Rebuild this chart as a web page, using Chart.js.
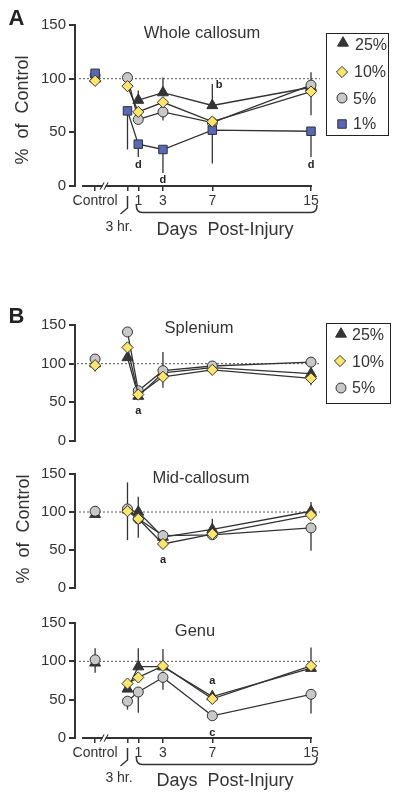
<!DOCTYPE html>
<html>
<head>
<meta charset="utf-8">
<script src="https://cdn.jsdelivr.net/npm/chart.js@4.4.1/dist/chart.umd.min.js"></script>
<style>
  html, body { margin: 0; padding: 0; background: #fff; }
  body { width: 400px; height: 798px; position: relative; overflow: hidden;
         font-family: "Liberation Sans", Arial, Helvetica, sans-serif; color: #333; }
  canvas { position: absolute; left: 0; top: 0; }
  .t { position: absolute; white-space: pre; line-height: 1; transform: translate(-50%, -50%); }
  .l { position: absolute; white-space: pre; line-height: 1; transform: translate(0, -50%); font-size: 16px; }
  .rot { transform: translate(-50%, -50%) rotate(-90deg); }
  .box { position: absolute; border: 1.5px solid #222; }
</style>
</head>
<body>
<canvas id="whole" width="400" height="798"></canvas>
<canvas id="splenium" width="400" height="798"></canvas>
<canvas id="mid" width="400" height="798"></canvas>
<canvas id="genu" width="400" height="798"></canvas>

<div class="box" style="left:326px;top:33px;width:61px;height:101px"></div>
<div class="box" style="left:326px;top:323px;width:63px;height:79px"></div>

<div class="t" style="left:16.5px;top:18px;font-size:22px;font-weight:bold;color:#222">A</div>
<div class="t" style="left:16.5px;top:316px;font-size:22px;font-weight:bold;color:#222">B</div>
<div class="t rot" style="left:22px;top:110px;font-size:18px">%  of  Control</div>
<div class="t rot" style="left:23px;top:529px;font-size:18px">%  of  Control</div>

<div class="t" style="left:202px;top:32px;font-size:16.5px">Whole callosum</div>
<div class="t" style="left:199px;top:327px;font-size:16.5px">Splenium</div>
<div class="t" style="left:201px;top:477px;font-size:16.5px">Mid-callosum</div>
<div class="t" style="left:195px;top:630px;font-size:16.5px">Genu</div>

<div class="l" style="left:355px;top:45px">25%</div>
<div class="l" style="left:354px;top:72px">10%</div>
<div class="l" style="left:353px;top:99px">5%</div>
<div class="l" style="left:353px;top:124px">1%</div>
<div class="l" style="left:352px;top:335px">25%</div>
<div class="l" style="left:352px;top:362px">10%</div>
<div class="l" style="left:352px;top:388px">5%</div>

<div class="t" style="left:119px;top:226px;font-size:14px">3 hr.</div>
<div class="t" style="left:225px;top:229px;font-size:18px">Days  Post-Injury</div>
<div class="t" style="left:119px;top:777px;font-size:14px">3 hr.</div>
<div class="t" style="left:225px;top:780px;font-size:18px">Days  Post-Injury</div>

<script>
// x positions: control, 3 hr, then days post-injury
const timeX = [-2.5, 0.125, 1, 3, 7, 15];
const timeLabels = ['Control', '', '1', '3', '7', '15'];
const yTicks = [0, 50, 100, 150];

// Whole callosum (25%, 10%, 5%, 1%)
const wholeTri = [100, null, 80, 87, 75, 92];
const wholeDia = [98, 93, 69, 78, 60, 88];
const wholeCir = [103, 101, 62, 69, 59, 94];
const wholeSq = [105, 70, 39, 34, 52, 51];
const wholeTriErr = [null, null, [null, 89], [null, 101], [null, 95], [null, 106]];
const wholeDiaErr = [null, null, null, null, null, [66, null]];
const wholeCirErr = [null, null, null, [61, null], null, null];
const wholeSqErr = [null, [34, null], [27, null], [12, null], [21, null], [27, null]];
const wholeMarks = [{x: 1, y: 20, t: 'd'}, {x: 3, y: 6, t: 'd'}, {x: 15, y: 20, t: 'd'}, {x: 7.55, y: 94, t: 'b'}];

// Splenium
const splTri = [100, 108, 58, 88, 95, 87];
const splDia = [98, 121, 60, 83, 92, 81];
const splCir = [106, 141, 65, 91, 97, 102];
const splTriErr = [[90, null], null, null, null, null, [null, 95]];
const splDiaErr = [null, null, null, [69, null], null, [72, null]];
const splCirErr = [null, null, null, [null, 115], null, null];
const splMarks = [{x: 1, y: 39, t: 'a'}];

// Mid-callosum
const midTri = [97, 103, 100, 67, 77, 101];
const midDia = [null, 101, 91, 58, 71, 96];
const midCir = [101, 104, 91, 69, 70, 79];
const midTriErr = [null, null, [66, 120], null, [null, 91], [null, 113]];
const midDiaErr = [null, null, null, null, null, null];
const midCirErr = [null, [63, 139], null, null, null, [49, null]];
const midMarks = [{x: 3, y: 37, t: 'a'}];

// Genu
const genuTri = [98, 64, 93, 93, 54, 91];
const genuDia = [null, 71, 79, 94, 51, 94];
const genuCir = [102, 48, 60, 79, 29, 57];
const genuTriErr = [null, null, [null, 117], [null, 116], null, null];
const genuDiaErr = [null, null, null, null, null, [null, 118]];
const genuCirErr = [[85, 117], [37, null], [33, null], [63, null], null, [32, null]];
const genuMarks = [{x: 7, y: 75, t: 'a'}, {x: 7, y: 7, t: 'c'}];

const FONT = '"Liberation Sans", Arial, Helvetica, sans-serif';
const INK = '#333';
Chart.defaults.font.family = FONT;

const styles = {
  tri: {pointStyle: 'triangle', radius: 6.3, fill: '#353535', order: 3},
  dia: {pointStyle: 'rectRot', radius: 5.6, fill: '#fbe56c', order: 0},
  cir: {pointStyle: 'circle', radius: 5, fill: '#c8c8c8', order: 2},
  sq: {pointStyle: 'rect', radius: 6, fill: '#5867b6', order: 1}
};

function series(key, values, errs) {
  const s = styles[key];
  return {
    data: values.map((v, i) => ({x: timeX[i], y: v})),
    errBars: errs,
    order: s.order,
    borderColor: INK,
    borderWidth: 1.3,
    segment: {borderColor: c => c.p0DataIndex === 0 ? 'rgba(0,0,0,0)' : INK},
    pointStyle: s.pointStyle,
    pointRadius: s.radius,
    pointBackgroundColor: s.fill,
    pointBorderColor: INK,
    pointBorderWidth: 1,
    clip: false
  };
}

function marker(ctx, key, x, y) {
  const s = styles[key];
  ctx.save();
  ctx.fillStyle = s.fill;
  ctx.strokeStyle = INK;
  ctx.lineWidth = 1;
  Chart.helpers.drawPoint(ctx, {pointStyle: s.pointStyle, radius: s.radius, borderWidth: 1, rotation: 0}, x, y);
  ctx.restore();
}

function decor(cfg) {
  return {
    id: 'decor',
    beforeDatasetsDraw(chart) {
      const {ctx, chartArea: a, scales: {x, y}} = chart;
      ctx.save();
      const y100 = y.getPixelForValue(100);
      ctx.strokeStyle = '#555';
      ctx.lineWidth = 1;
      ctx.setLineDash([2, 2]);
      ctx.beginPath();
      ctx.moveTo(a.left + cfg.refStart, y100);
      ctx.lineTo(a.right + 9, y100);
      ctx.stroke();
      ctx.setLineDash([]);
      ctx.strokeStyle = INK;
      ctx.lineWidth = 1.3;
      chart.data.datasets.forEach(ds => {
        (ds.errBars || []).forEach((e, i) => {
          if (!e || ds.data[i].y == null) return;
          const px = x.getPixelForValue(ds.data[i].x);
          const py = y.getPixelForValue(ds.data[i].y);
          e.forEach(v => {
            if (v == null) return;
            ctx.beginPath();
            ctx.moveTo(px, py);
            ctx.lineTo(px, y.getPixelForValue(v));
            ctx.stroke();
          });
        });
      });
      ctx.restore();
    },
    afterDraw(chart) {
      const {ctx, chartArea: a, scales: {x, y}} = chart;
      ctx.save();
      // significance letters
      ctx.fillStyle = '#222';
      ctx.font = 'bold 11px ' + FONT;
      ctx.textAlign = 'center';
      ctx.textBaseline = 'middle';
      cfg.marks.forEach(m => ctx.fillText(m.t, x.getPixelForValue(m.x), y.getPixelForValue(m.y)));

      if (cfg.timeAxis) {
        const b = a.bottom;
        ctx.strokeStyle = INK;
        ctx.lineWidth = 2;
        ctx.beginPath();
        ctx.moveTo(x.getPixelForValue(-3.56), b);
        ctx.lineTo(x.getPixelForValue(15) + 1, b);
        ctx.stroke();
        // axis break
        const bx = x.getPixelForValue(-1.77);
        ctx.fillStyle = '#fff';
        ctx.fillRect(bx - 1.5, b - 3, 3, 6);
        ctx.lineWidth = 1.1;
        ctx.beginPath();
        ctx.moveTo(bx - 4, b + 3.5); ctx.lineTo(bx, b - 3.5);
        ctx.moveTo(bx, b + 3.5); ctx.lineTo(bx + 4, b - 3.5);
        ctx.stroke();
        // 3 hr bracket
        const hx = x.getPixelForValue(0.125);
        ctx.lineWidth = 1.5;
        ctx.beginPath();
        ctx.moveTo(hx, b + 10);
        ctx.lineTo(hx, b + 22);
        ctx.lineTo(hx - 7, b + 28);
        ctx.stroke();
        // days brace
        const x1 = x.getPixelForValue(1) - 2;
        const x2 = x.getPixelForValue(15) + 6;
        const by = b + 26.5;
        ctx.beginPath();
        ctx.moveTo(x1, b + 19);
        ctx.quadraticCurveTo(x1, by, x1 + 6, by);
        ctx.lineTo(x2 - 6, by);
        ctx.quadraticCurveTo(x2, by, x2, b + 19);
        ctx.stroke();
      }
      (cfg.legend || []).forEach(l => marker(ctx, l.key, l.x, l.y));
      ctx.restore();
    }
  };
}

function makeChart(id, datasets, cfg) {
  const axisH = cfg.timeAxis ? 30 : 0;
  return new Chart(document.getElementById(id), {
    type: 'line',
    data: {datasets: datasets},
    plugins: [decor(cfg)],
    options: {
      responsive: false,
      animation: false,
      devicePixelRatio: 1,
      layout: {padding: {left: 0, right: 89, top: cfg.top, bottom: 798 - cfg.bottom - axisH}},
      plugins: {legend: {display: false}, tooltip: {enabled: false}},
      scales: {
        x: {
          type: 'linear',
          min: -4.13,
          max: 15,
          display: cfg.timeAxis,
          afterBuildTicks: s => { s.ticks = timeX.map(v => ({value: v})); },
          afterFit: s => { s.height = axisH; },
          border: {display: false},
          grid: {drawOnChartArea: false, tickLength: 5, color: INK, lineWidth: 1.5},
          ticks: {
            callback: (v, i) => timeLabels[i],
            font: {size: 14},
            color: INK,
            padding: 2,
            maxRotation: 0,
            autoSkip: false
          }
        },
        y: {
          min: 0,
          max: 150,
          afterBuildTicks: s => { s.ticks = yTicks.map(v => ({value: v})); },
          afterFit: s => { s.width = 75; },
          border: {color: INK, width: 2},
          grid: {drawOnChartArea: false, tickLength: 6, color: INK, lineWidth: 2},
          ticks: {font: {size: 15}, color: INK, padding: 3}
        }
      }
    }
  });
}

makeChart('whole', [
  series('dia', wholeDia, wholeDiaErr),
  series('sq', wholeSq, wholeSqErr),
  series('cir', wholeCir, wholeCirErr),
  series('tri', wholeTri, wholeTriErr)
], {top: 25, bottom: 186, timeAxis: true, refStart: 4, marks: wholeMarks,
    legend: [{key: 'tri', x: 343, y: 43}, {key: 'dia', x: 342, y: 72}, {key: 'cir', x: 342, y: 98}, {key: 'sq', x: 342, y: 124}]});

makeChart('splenium', [
  series('dia', splDia, splDiaErr),
  series('cir', splCir, splCirErr),
  series('tri', splTri, splTriErr)
], {top: 325, bottom: 441, timeAxis: false, refStart: -2, marks: splMarks,
    legend: [{key: 'tri', x: 341, y: 334}, {key: 'dia', x: 340, y: 361}, {key: 'cir', x: 341, y: 388}]});

makeChart('mid', [
  series('dia', midDia, midDiaErr),
  series('cir', midCir, midCirErr),
  series('tri', midTri, midTriErr)
], {top: 474, bottom: 588, timeAxis: false, refStart: 4, marks: midMarks});

makeChart('genu', [
  series('dia', genuDia, genuDiaErr),
  series('cir', genuCir, genuCirErr),
  series('tri', genuTri, genuTriErr)
], {top: 623, bottom: 738, timeAxis: true, refStart: 4, marks: genuMarks});
</script>
</body>
</html>
